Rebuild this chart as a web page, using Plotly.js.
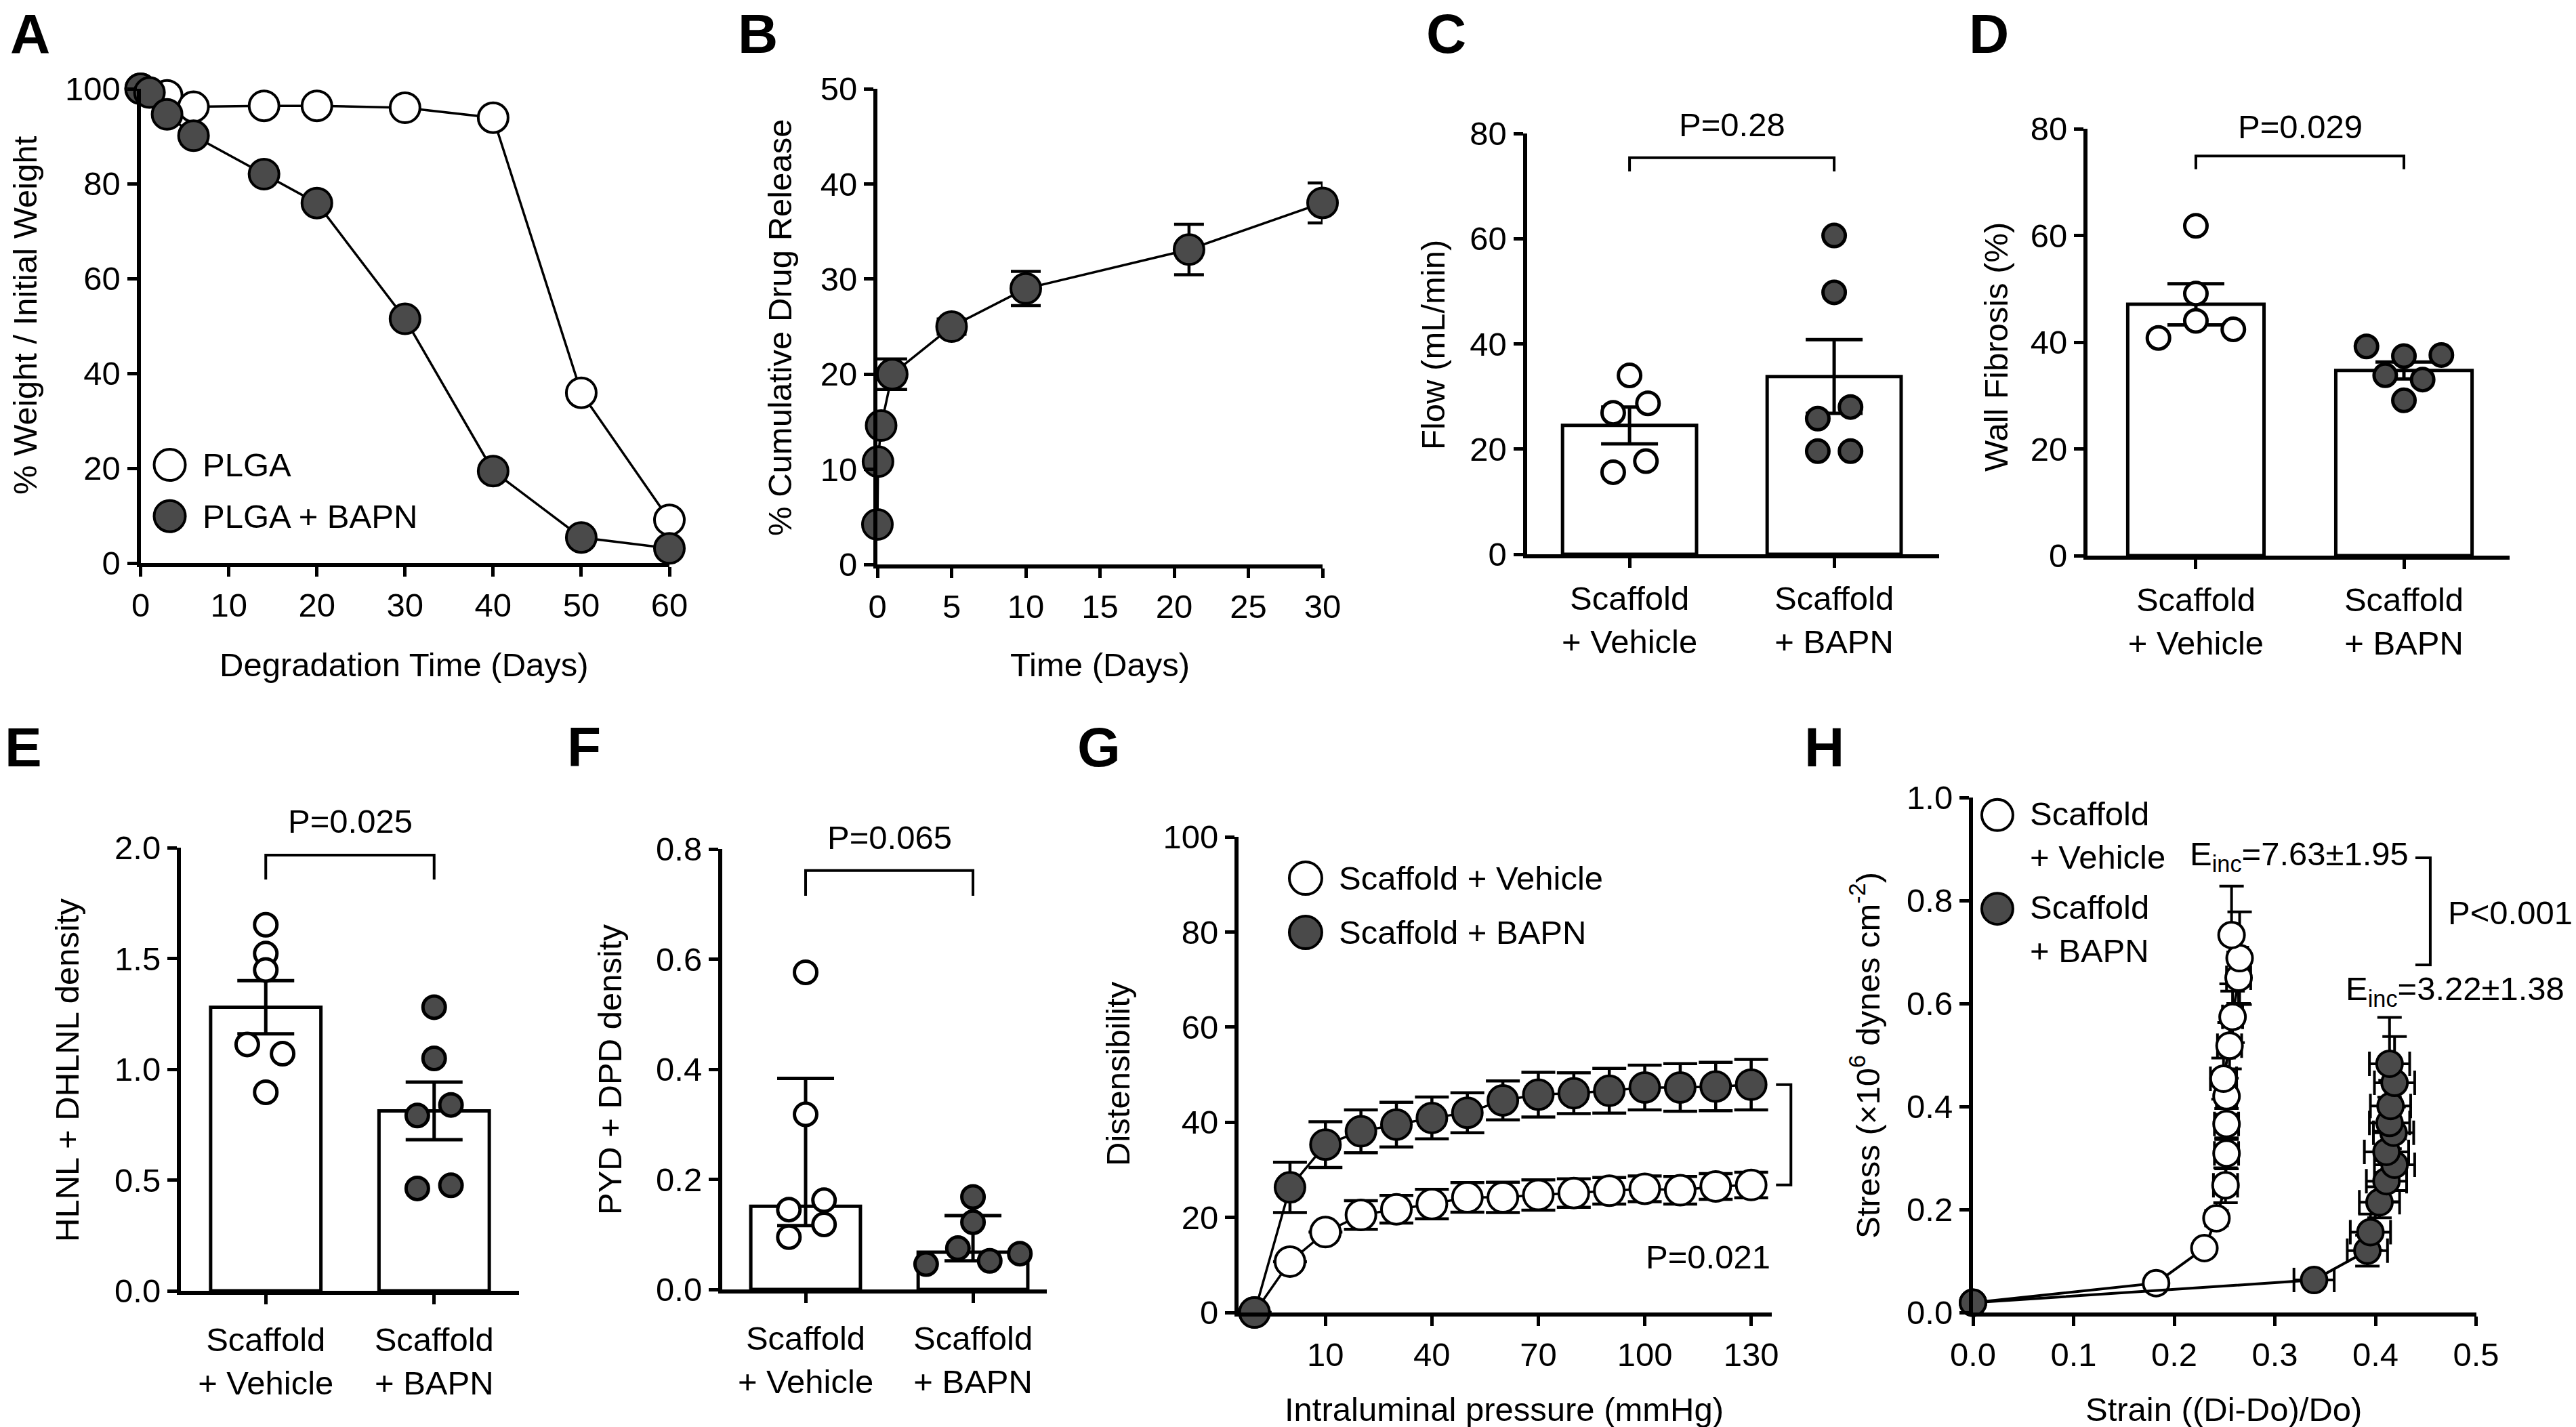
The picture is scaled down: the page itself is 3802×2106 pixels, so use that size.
<!DOCTYPE html>
<html><head><meta charset="utf-8">
<script src="https://cdn.plot.ly/plotly-3.0.1.min.js"></script>
<style>html,body{margin:0;padding:0;background:#fff}#chart{width:3802px;height:2106px}</style>
</head><body><div id="chart"></div>
<script>
// ---------------- DATA ----------------
// A: degradation
const aDaysPlga = [0, 3, 6, 14, 20, 30, 40, 50, 60];
const aWeightPlga = [100, 98.6, 96.2, 96.4, 96.4, 96.0, 93.9, 35.9, 9.1];
const aDaysBapn = [0, 1, 3, 6, 14, 20, 30, 40, 50, 60];
const aWeightBapn = [100, 99.2, 94.6, 90.1, 82.0, 75.9, 51.5, 19.4, 5.4, 3.1];
// B: cumulative release
const bDays = [0, 0.04, 0.25, 1, 5, 10, 21, 30];
const bRelease = [4.2, 10.8, 14.6, 20.0, 25.0, 29.0, 33.1, 38.0];
const bErr = [0, 0, 0, 1.6, 0.8, 1.8, 2.65, 2.1];
// shared categories
const groups = ['Scaffold<br>+ Vehicle', 'Scaffold<br>+ BAPN'];
// C: flow
const cMean = [24.5, 33.8];
const cSem = [3.5, 7.0];
const cVeh = [34.0, 28.7, 26.9, 17.7, 15.6];
const cVehJit = [0, 0.09, -0.08, 0.08, -0.08];
const cBapn = [60.6, 49.8, 28.0, 25.8, 19.6, 19.6];
const cBapnJit = [0, 0, 0.08, -0.08, -0.08, 0.08];
// D: wall fibrosis
const dMean = [47.1, 34.7];
const dSem = [3.85, 1.6];
const dVeh = [61.8, 49.1, 44.0, 40.8, 42.4];
const dVehJit = [0, 0, 0, -0.18, 0.18];
const dBapn = [39.2, 37.4, 37.6, 33.8, 33.0, 29.1];
const dBapnJit = [-0.18, 0, 0.18, -0.09, 0.09, 0];
// E: HLNL + DHLNL
const eMean = [1.28, 0.812];
const eSem = [0.12, 0.13];
const eVeh = [1.652, 1.522, 1.448, 1.112, 1.070, 0.896];
const eVehJit = [0, 0, 0, -0.11, 0.1, 0];
const eBapn = [1.280, 1.049, 0.791, 0.839, 0.462, 0.476];
const eBapnJit = [0, 0, -0.1, 0.1, -0.1, 0.1];
// F: PYD + DPD (median, IQR)
const fMedian = [0.151, 0.0676];
const fUpper = [0.3835, 0.134];
const fLower = [0.116, 0.052];
const fVeh = [0.576, 0.318, 0.145, 0.162, 0.118, 0.095];
const fVehJit = [0, 0, -0.1, 0.11, 0.11, -0.1];
const fBapn = [0.168, 0.122, 0.075, 0.046, 0.052, 0.065];
const fBapnJit = [0, 0, -0.09, -0.28, 0.1, 0.28];
// P values
const pValues = {C: 'P=0.28', D: 'P=0.029', E: 'P=0.025', F: 'P=0.065', G: 'P=0.021', H: 'P<0.001'};
// G: distensibility
const gPressure = [-10, 0, 10, 20, 30, 40, 50, 60, 70, 80, 90, 100, 110, 120, 130];
const gVeh = [0, 10.7, 16.9, 20.5, 21.7, 22.8, 24.2, 24.2, 24.7, 25.1, 25.6, 26.0, 25.7, 26.5, 26.8];
const gVehErr = [0, 0, 0, 3.0, 2.9, 3.1, 3.1, 3.2, 3.2, 3.0, 2.8, 2.7, 2.9, 2.7, 2.7];
const gBapn = [0, 26.3, 35.3, 38.1, 39.5, 40.9, 42.0, 44.6, 45.8, 46.1, 46.6, 47.3, 47.3, 47.5, 47.9];
const gBapnErr = [0, 5.3, 4.8, 4.5, 4.7, 4.4, 4.2, 4.1, 4.7, 4.3, 4.7, 4.7, 5.0, 5.1, 5.3];
const gTicks = [10, 40, 70, 100, 130];
// H: stress-strain
const hVehStrain = [0, 0.182, 0.230, 0.242, 0.251, 0.252, 0.252, 0.252, 0.249, 0.255, 0.258, 0.264, 0.265, 0.257];
const hVehStress = [0.019, 0.057, 0.125, 0.183, 0.247, 0.309, 0.366, 0.420, 0.454, 0.518, 0.574, 0.650, 0.688, 0.733];
const hVehErrY = [0, 0.005, 0.01, 0.015, 0.034, 0.03, 0.03, 0.035, 0.04, 0.045, 0.05, 0.05, 0.09, 0.095];
const hVehErrX = [0, 0.005, 0.005, 0.005, 0.012, 0.012, 0.012, 0.01, 0.013, 0.012, 0.01, 0.012, 0.008, 0.005];
const hBapnStrain = [0, 0.339, 0.392, 0.395, 0.404, 0.411, 0.419, 0.411, 0.418, 0.414, 0.415, 0.419, 0.414];
const hBapnStress = [0.019, 0.063, 0.120, 0.156, 0.214, 0.255, 0.287, 0.312, 0.349, 0.368, 0.401, 0.446, 0.483];
const hBapnErrY = [0, 0.005, 0.03, 0.035, 0.03, 0.04, 0.05, 0.04, 0.05, 0.05, 0.05, 0.09, 0.09];
const hBapnErrX = [0, 0.02, 0.02, 0.02, 0.02, 0.02, 0.02, 0.022, 0.02, 0.02, 0.02, 0.02, 0.02];
const hEinc = ['E<sub>inc</sub>=7.63±1.95', 'E<sub>inc</sub>=3.22±1.38'];

// ---------------- LAYOUT HELPERS ----------------
const W = 3802, H = 2106;
const FONT = 'Liberation Sans, Arial, Helvetica, sans-serif';
const FS = 49;
const DARK = '#4a4a4a';
const xd = (a, b) => [a / W, b / W];
const yd = (top, bot) => [1 - bot / H, 1 - top / H];
const px = v => v / W;
const py = v => 1 - v / H;
const base = {
  showline: true, linewidth: 6, linecolor: '#000', ticks: 'outside', ticklen: 14,
  tickwidth: 5, tickcolor: '#000', showgrid: false, zeroline: false, fixedrange: true,
  tickfont: {family: FONT, size: FS, color: '#000'}
};
const ax = o => Object.assign({}, base, o);

const openM = (s) => ({size: s, color: '#fff', line: {color: '#000', width: 4}});
const darkM = (s) => ({size: s, color: DARK, line: {color: '#000', width: 4}});

const traces = [];
// A
traces.push({type: 'scatter', mode: 'lines+markers', x: aDaysPlga, y: aWeightPlga, xaxis: 'x', yaxis: 'y',
  line: {color: '#000', width: 3.5}, marker: openM(44), cliponaxis: false});
traces.push({type: 'scatter', mode: 'lines+markers', x: aDaysBapn, y: aWeightBapn, xaxis: 'x', yaxis: 'y',
  line: {color: '#000', width: 3.5}, marker: darkM(44), cliponaxis: false});
traces.push({type: 'scatter', mode: 'markers', x: [3.3], y: [20.7], xaxis: 'x', yaxis: 'y', marker: openM(46), cliponaxis: false});
traces.push({type: 'scatter', mode: 'markers', x: [3.3], y: [9.9], xaxis: 'x', yaxis: 'y', marker: darkM(46), cliponaxis: false});
// B
traces.push({type: 'scatter', mode: 'lines+markers', x: bDays, y: bRelease, xaxis: 'x2', yaxis: 'y2',
  line: {color: '#000', width: 3.5}, marker: darkM(44), cliponaxis: false,
  error_y: {type: 'data', array: bErr, visible: true, color: '#000', thickness: 4.5, width: 22}});

// bar panels
function barPanel(n, mean, errP, errM, veh, vehJ, bapn, bapnJ) {
  const xa = 'x' + n, ya = 'y' + n;
  const ey = {type: 'data', array: errP, visible: true, color: '#000', thickness: 5, width: 42};
  if (errM) { ey.symmetric = false; ey.arrayminus = errM; }
  traces.push({type: 'bar', x: [0, 1], y: mean, width: 0.655, xaxis: xa, yaxis: ya,
    marker: {color: '#fff', line: {color: '#000', width: 5}}, error_y: ey});
  traces.push({type: 'scatter', mode: 'markers', x: vehJ.map(j => 0 + j), y: veh, xaxis: xa, yaxis: ya,
    marker: {size: 33, color: '#fff', line: {color: '#000', width: 5}}, cliponaxis: false});
  traces.push({type: 'scatter', mode: 'markers', x: bapnJ.map(j => 1 + j), y: bapn, xaxis: xa, yaxis: ya,
    marker: {size: 33, color: DARK, line: {color: '#000', width: 5}}, cliponaxis: false});
}
barPanel(3, cMean, cSem, null, cVeh, cVehJit, cBapn, cBapnJit);
barPanel(4, dMean, dSem, null, dVeh, dVehJit, dBapn, dBapnJit);
barPanel(5, eMean, eSem, null, eVeh, eVehJit, eBapn, eBapnJit);
barPanel(6, fMedian, fUpper.map((u, i) => u - fMedian[i]), fLower.map((l, i) => fMedian[i] - l), fVeh, fVehJit, fBapn, fBapnJit);

// G
traces.push({type: 'scatter', mode: 'lines+markers', x: gPressure, y: gVeh, xaxis: 'x7', yaxis: 'y7',
  line: {color: '#000', width: 3.5}, marker: openM(44), cliponaxis: false,
  error_y: {type: 'data', array: gVehErr, visible: true, color: '#000', thickness: 4.5, width: 25}});
traces.push({type: 'scatter', mode: 'lines+markers', x: gPressure, y: gBapn, xaxis: 'x7', yaxis: 'y7',
  line: {color: '#000', width: 3.5}, marker: darkM(44), cliponaxis: false,
  error_y: {type: 'data', array: gBapnErr, visible: true, color: '#000', thickness: 4.5, width: 25}});
traces.push({type: 'scatter', mode: 'markers', x: [4.4], y: [91.3], xaxis: 'x7', yaxis: 'y7', marker: openM(48), cliponaxis: false});
traces.push({type: 'scatter', mode: 'markers', x: [4.4], y: [79.9], xaxis: 'x7', yaxis: 'y7', marker: darkM(48), cliponaxis: false});

// H
traces.push({type: 'scatter', mode: 'lines+markers', x: hVehStrain, y: hVehStress, xaxis: 'x8', yaxis: 'y8',
  line: {color: '#000', width: 4}, marker: openM(38), cliponaxis: false,
  error_y: {type: 'data', array: hVehErrY, visible: true, color: '#000', thickness: 4, width: 18},
  error_x: {type: 'data', array: hVehErrX, visible: true, color: '#000', thickness: 4, width: 18}});
traces.push({type: 'scatter', mode: 'lines+markers', x: hBapnStrain, y: hBapnStress, xaxis: 'x8', yaxis: 'y8',
  line: {color: '#000', width: 4}, marker: darkM(38), cliponaxis: false,
  error_y: {type: 'data', array: hBapnErrY, visible: true, color: '#000', thickness: 4, width: 18},
  error_x: {type: 'data', array: hBapnErrX, visible: true, color: '#000', thickness: 4, width: 18}});
traces.push({type: 'scatter', mode: 'markers', x: [0.0242], y: [0.966], xaxis: 'x8', yaxis: 'y8', marker: openM(46), cliponaxis: false});
traces.push({type: 'scatter', mode: 'markers', x: [0.0242], y: [0.784], xaxis: 'x8', yaxis: 'y8', marker: darkM(46), cliponaxis: false});

// ---------------- AXES ----------------
const catAx = (dom, range, so) => ax({domain: dom, range: range, tickvals: [0, 1], ticktext: groups, ticklabelstandoff: so || 0});
const layout = {
  width: W, height: H, margin: {l: 0, r: 0, t: 0, b: 0},
  paper_bgcolor: '#fff', plot_bgcolor: 'rgba(0,0,0,0)', showlegend: false,
  font: {family: FONT, size: FS, color: '#000'},
  xaxis: ax({domain: xd(207.6, 988), range: [0, 60], tickvals: [0, 10, 20, 30, 40, 50, 60], anchor: 'y'}),
  yaxis: ax({domain: yd(131, 831), range: [0, 100], tickvals: [0, 20, 40, 60, 80, 100], anchor: 'x'}),
  xaxis2: ax({domain: xd(1295, 1952), range: [0, 30], tickvals: [0, 5, 10, 15, 20, 25, 30], anchor: 'y2'}),
  yaxis2: ax({domain: yd(131, 833), range: [0, 50], tickvals: [0, 10, 20, 30, 40, 50], anchor: 'x2'}),
  xaxis3: Object.assign(catAx(xd(2253.5, 2862), [-0.502, 1.513], 3), {anchor: 'y3'}),
  yaxis3: ax({domain: yd(197, 818), range: [0, 80], tickvals: [0, 20, 40, 60, 80], anchor: 'x3'}),
  xaxis4: Object.assign(catAx(xd(3081, 3704), [-0.521, 1.508], 3), {anchor: 'y4'}),
  yaxis4: ax({domain: yd(190, 820), range: [0, 80], tickvals: [0, 20, 40, 60, 80], anchor: 'x4'}),
  xaxis5: Object.assign(catAx(xd(267, 766), [-0.504, 1.504], 10), {anchor: 'y5'}),
  yaxis5: ax({domain: yd(1251, 1905), range: [0, 2], tickvals: [0, 0.5, 1, 1.5, 2], tickformat: '.1f', anchor: 'x5'}),
  xaxis6: Object.assign(catAx(xd(1066, 1545), [-0.498, 1.441], 10), {anchor: 'y6'}),
  yaxis6: ax({domain: yd(1253, 1903), range: [0, 0.8], tickvals: [0, 0.2, 0.4, 0.6, 0.8], tickformat: '.1f', anchor: 'x6'}),
  xaxis7: ax({domain: xd(1828, 2615), range: [-14.5, 135.8], tickvals: gTicks, anchor: 'y7'}),
  yaxis7: ax({domain: yd(1235, 1937), range: [0, 100], tickvals: [0, 20, 40, 60, 80, 100], anchor: 'x7'}),
  xaxis8: ax({domain: xd(2912, 3654.5), range: [0, 0.5], tickvals: [0, 0.1, 0.2, 0.3, 0.4, 0.5], tickformat: '.1f', anchor: 'y8'}),
  yaxis8: ax({domain: yd(1177, 1937), range: [0, 1], tickvals: [0, 0.2, 0.4, 0.6, 0.8, 1.0], tickformat: '.1f', anchor: 'x8'}),
  shapes: [], annotations: []
};

const TF = {family: FONT, size: FS, color: '#000'};
function paperText(text, x, y, opts) {
  layout.annotations.push(Object.assign({xref: 'paper', yref: 'paper', x: px(x), y: py(y), text: text,
    showarrow: false, font: TF, xanchor: 'center', yanchor: 'middle'}, opts || {}));
}
function dataText(n, text, x, y, opts) {
  const s = (n === 1 ? '' : n);
  layout.annotations.push(Object.assign({xref: 'x' + s, yref: 'y' + s, x: x, y: y, text: text,
    showarrow: false, font: TF, xanchor: 'center', yanchor: 'middle'}, opts || {}));
}
// text above the y range: use the axis domain reference, derived from the axis range
function topText(n, text, x, yVal) {
  const r = layout['yaxis' + n].range;
  layout.annotations.push({xref: 'x' + n, yref: 'y' + n + ' domain', x: x, y: (yVal - r[0]) / (r[1] - r[0]),
    text: text, showarrow: false, font: TF, xanchor: 'center', yanchor: 'middle'});
}
function bracket(n, x0, x1, yTop, yLeg) {
  layout.shapes.push({type: 'path', xref: 'x' + n, yref: 'y' + n,
    path: `M ${x0},${yLeg} L ${x0},${yTop} L ${x1},${yTop} L ${x1},${yLeg}`,
    line: {color: '#000', width: 4}});
}

// panel letters
const LF = {family: FONT, size: 82, color: '#000'};
[['A', 13, 50], ['B', 1087, 50], ['C', 2103, 50], ['D', 2904, 50],
 ['E', 5, 1102], ['F', 835, 1102], ['G', 1588, 1102], ['H', 2661, 1102]].forEach(l =>
  paperText('<b>' + l[0] + '</b>', l[1], l[2], {xanchor: 'left', font: LF}));

// axis titles
paperText('% Weight / Initial Weight', 37, 465, {textangle: -90});
paperText('Degradation Time (Days)', 596, 981);
paperText('% Cumulative Drug Release', 1151, 483, {textangle: -90});
paperText('Time (Days)', 1623, 981);
paperText('Flow (mL/min)', 2115, 509, {textangle: -90});
paperText('Wall Fibrosis (%)', 2946, 512, {textangle: -90});
paperText('HLNL + DHLNL density', 99, 1579, {textangle: -90});
paperText('PYD + DPD density', 900, 1579, {textangle: -90});
paperText('Distensibility', 1650, 1585, {textangle: -90});
paperText('Intraluminal pressure (mmHg)', 2220, 2080);
paperText('Stress (×10<sup>6</sup> dynes cm<sup>-2</sup>)', 2753, 1558, {textangle: -90});
paperText('Strain ((Di-Do)/Do)', 3282, 2080);

// legends
dataText(1, 'PLGA', 6.9, 20.7, {xanchor: 'left'});
dataText(1, 'PLGA + BAPN', 6.9, 9.9, {xanchor: 'left'});
dataText(7, 'Scaffold + Vehicle', 13.4, 91.3, {xanchor: 'left'});
dataText(7, 'Scaffold + BAPN', 13.4, 79.9, {xanchor: 'left'});
dataText(8, 'Scaffold<br>+ Vehicle', 0.0552, 0.926, {xanchor: 'left', align: 'left'});
dataText(8, 'Scaffold<br>+ BAPN', 0.0552, 0.745, {xanchor: 'left', align: 'left'});

// significance brackets
bracket(3, 0, 1, 75.4, 72.8); topText(3, pValues.C, 0.5, 81.7);
bracket(4, 0, 1, 74.9, 72.4); topText(4, pValues.D, 0.5, 80.4);
bracket(5, 0, 1, 1.966, 1.856); topText(5, pValues.E, 0.5, 2.119);
bracket(6, 0, 1, 0.761, 0.715); topText(6, pValues.F, 0.5, 0.821);
// G bracket (beyond axis range -> domain refs)
(function () {
  const r = layout.xaxis7.range, yr = layout.yaxis7.range;
  const fx = v => (v - r[0]) / (r[1] - r[0]);
  const fy = v => (v - yr[0]) / (yr[1] - yr[0]);
  const yT = gBapn[gBapn.length - 1], yB = gVeh[gVeh.length - 1];
  layout.shapes.push({type: 'path', xref: 'x7 domain', yref: 'y7 domain',
    path: `M ${fx(137)},${fy(yT)} L ${fx(141.2)},${fy(yT)} L ${fx(141.2)},${fy(yB)} L ${fx(137)},${fy(yB)}`,
    line: {color: '#000', width: 4}});
})();
dataText(7, pValues.G, 135.8, 11.7, {xanchor: 'right'});
// H bracket
layout.shapes.push({type: 'path', xref: 'x8', yref: 'y8',
  path: 'M 0.4397,0.883 L 0.4545,0.883 L 0.4545,0.675 L 0.4397,0.675', line: {color: '#000', width: 4}});
dataText(8, pValues.H, 0.471, 0.776, {xanchor: 'left'});
dataText(8, hEinc[0], 0.4343, 0.886, {xanchor: 'right'});
dataText(8, hEinc[1], 0.479, 0.625, {xanchor: 'center'});

Plotly.newPlot('chart', traces, layout, {staticPlot: true, displayModeBar: false});
</script></body></html>
